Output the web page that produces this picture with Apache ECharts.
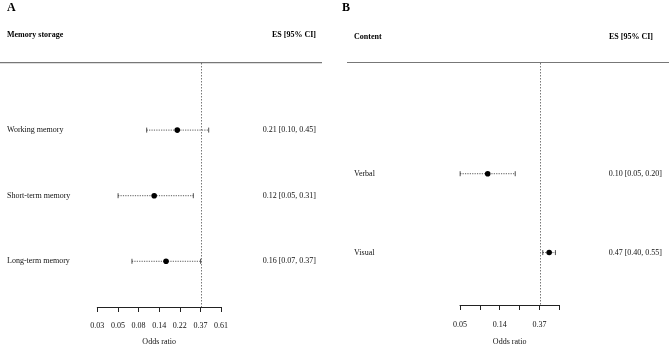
<!DOCTYPE html>
<html>
<head>
<meta charset="utf-8">
<script src="https://cdn.jsdelivr.net/npm/echarts@6/dist/echarts.min.js"></script>
<style>html,body{margin:0;padding:0;background:#fff}#c{width:670px;height:351px}</style>
</head>
<body>
<div id="c"></div>
<script>
// Panel A: Memory storage
const catsA = ['Working memory', 'Short-term memory', 'Long-term memory'];
const esA = [0.21, 0.12, 0.16];
const loA = [0.10, 0.05, 0.07];
const hiA = [0.45, 0.31, 0.37];
const ticksA = [0.03, 0.05, 0.08, 0.14, 0.22, 0.37, 0.61];
// Panel B: Content
const catsB = ['Verbal', 'Visual'];
const esB = [0.10, 0.47];
const loB = [0.05, 0.40];
const hiB = [0.20, 0.55];
const ticksB = [0.05, 0.14, 0.37];
const refOR = 0.37;

const FONT = "'Liberation Serif', 'DejaVu Serif', serif";
const chart = echarts.init(document.getElementById('c'), null, {renderer: 'canvas'});

function fmt(v) { return v.toFixed(2); }

function makeData(es, lo, hi) {
  return es.map((e, i) => [Math.log(lo[i]), Math.log(hi[i]), Math.log(e), i + 1]);
}

function makeRender(cats, es, lo, hi, labelX, rightX) {
  return function (params, api) {
    const row = api.value(3);
    const pL = api.coord([api.value(0), row]);
    const pH = api.coord([api.value(1), row]);
    const pE = api.coord([api.value(2), row]);
    const y = pE[1];
    const i = params.dataIndex;
    const ls = {stroke: '#222', lineWidth: 0.8};
    return {
      type: 'group',
      children: [
        {type: 'line', shape: {x1: pL[0], y1: y, x2: pH[0], y2: y},
         style: {stroke: '#333', lineWidth: 0.8, lineDash: [1.2, 1.2]}},
        {type: 'line', shape: {x1: pL[0], y1: y - 2.5, x2: pL[0], y2: y + 2.5}, style: ls},
        {type: 'line', shape: {x1: pH[0], y1: y - 2.5, x2: pH[0], y2: y + 2.5}, style: ls},
        {type: 'circle', shape: {cx: pE[0], cy: y, r: 2.8}, style: {fill: '#000'}},
        {type: 'text', style: {x: labelX, y: y, text: cats[i], fill: '#111',
          font: '8px ' + FONT, textAlign: 'left', textVerticalAlign: 'middle'}},
        {type: 'text', style: {x: rightX, y: y, text: fmt(es[i]) + ' [' + fmt(lo[i]) + ', ' + fmt(hi[i]) + ']',
          fill: '#111', font: '8px ' + FONT, textAlign: 'right', textVerticalAlign: 'middle'}}
      ]
    };
  };
}

function labelFmt(ticks) {
  return function (v) {
    const e = Math.exp(v);
    for (const t of ticks) { if (Math.abs(t - e) < 0.006) return fmt(t); }
    return '';
  };
}

const axisCommon = {
  type: 'value',
  interval: 0.5,
  splitLine: {show: false},
  axisLine: {show: true, onZero: false, lineStyle: {color: '#222', width: 1}},
  axisTick: {show: true, length: 5, lineStyle: {color: '#222', width: 1}},
  name: 'Odds ratio',
  nameLocation: 'middle',
  nameTextStyle: {fontFamily: FONT, fontSize: 8, color: '#111'}
};

const option = {
  backgroundColor: '#fff',
  animation: false,
  grid: [
    {left: 97.3, top: 63, width: 123.7, height: 247},
    {left: 460, top: 63, width: 99.3, height: 247}
  ],
  xAxis: [
    Object.assign({}, axisCommon, {gridIndex: 0, min: -3.5, max: -0.5, nameGap: 31,
      axisLabel: {formatter: labelFmt(ticksA), margin: 14.5, fontFamily: FONT, fontSize: 8, color: '#111'}}),
    Object.assign({}, axisCommon, {gridIndex: 1, min: -3, max: -0.5, nameGap: 33,
      axisLabel: {formatter: labelFmt(ticksB), margin: 15.5, fontFamily: FONT, fontSize: 8, color: '#111', showMaxLabel: true}})
  ],
  yAxis: [
    {type: 'value', gridIndex: 0, inverse: true, min: -0.023, max: 3.697, show: false},
    {type: 'value', gridIndex: 1, inverse: true, min: -0.404, max: 2.665, show: false}
  ],
  graphic: [
    {type: 'text', left: 7, top: 2, style: {text: 'A', font: 'bold 12px ' + FONT, fill: '#000'}},
    {type: 'text', left: 342, top: 2, style: {text: 'B', font: 'bold 12px ' + FONT, fill: '#000'}},
    {type: 'text', x: 7, y: 35, style: {text: 'Memory storage', font: 'bold 8px ' + FONT, fill: '#000', textVerticalAlign: 'middle'}},
    {type: 'text', x: 316, y: 35, style: {text: 'ES [95% CI]', font: 'bold 8px ' + FONT, fill: '#000', textAlign: 'right', textVerticalAlign: 'middle'}},
    {type: 'text', x: 354, y: 36.5, style: {text: 'Content', font: 'bold 8px ' + FONT, fill: '#000', textVerticalAlign: 'middle'}},
    {type: 'text', x: 653, y: 36.5, style: {text: 'ES [95% CI]', font: 'bold 8px ' + FONT, fill: '#000', textAlign: 'right', textVerticalAlign: 'middle'}},
    {type: 'line', shape: {x1: 0, y1: 62.7, x2: 322, y2: 62.7}, style: {stroke: '#777', lineWidth: 1.2}},
    {type: 'line', shape: {x1: 347, y1: 62.5, x2: 669, y2: 62.5}, style: {stroke: '#777', lineWidth: 1.2}}
  ],
  series: [
    {type: 'custom', xAxisIndex: 0, yAxisIndex: 0, clip: false,
     data: makeData(esA, loA, hiA), renderItem: makeRender(catsA, esA, loA, hiA, 7, 316),
     markLine: {silent: true, symbol: 'none', label: {show: false},
       lineStyle: {type: [1.5, 1.5], color: '#555', width: 0.8}, data: [{xAxis: Math.log(refOR)}]}},
    {type: 'custom', xAxisIndex: 1, yAxisIndex: 1, clip: false,
     data: makeData(esB, loB, hiB), renderItem: makeRender(catsB, esB, loB, hiB, 354, 662),
     markLine: {silent: true, symbol: 'none', label: {show: false},
       lineStyle: {type: [1.5, 1.5], color: '#555', width: 0.8}, data: [{xAxis: Math.log(refOR)}]}}
  ]
};
chart.setOption(option);
</script>
</body>
</html>
